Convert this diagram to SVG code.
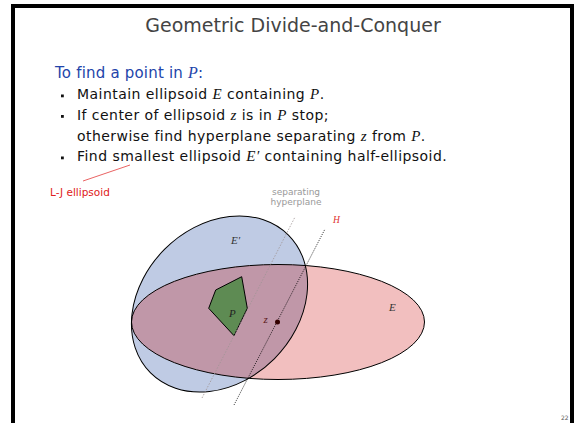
<svg xmlns="http://www.w3.org/2000/svg" width="579" height="423" viewBox="0 0 579 423">
<defs>
<style>
.sans{font-family:"DejaVu Sans","Liberation Sans",sans-serif}
.math{font-family:"Liberation Serif","DejaVu Serif",serif;font-style:italic}
.body{font-size:14px;fill:#111;letter-spacing:0.45px}
.body .math{font-size:15px}
.outline{fill:none;stroke:#000;stroke-width:1}
.lbl{font-size:11px;fill:#333}
</style>
<clipPath id="clipEp"><ellipse cx="219.5" cy="304" rx="97.5" ry="77.5" transform="rotate(-45 219.5 304)"/></clipPath>
</defs>
<rect x="0" y="0" width="579" height="423" fill="#fff"/>
<rect x="13" y="6" width="559" height="440" fill="none" stroke="#000" stroke-width="4"/>
<g id="title"><text class="sans" x="293" y="32" font-size="19" fill="#444" text-anchor="middle">Geometric Divide-and-Conquer</text></g>
<g id="text">
<text class="sans" x="55" y="78" font-size="15" fill="#2244aa" letter-spacing="0.2">To find a point in <tspan class="math" font-size="16">P</tspan>:</text>
<rect x="61" y="94.5" width="2.8" height="2.8" fill="#111"/>
<rect x="61" y="115" width="2.8" height="2.8" fill="#111"/>
<rect x="61" y="156.5" width="2.8" height="2.8" fill="#111"/>
<text class="sans body" x="77" y="99">Maintain ellipsoid <tspan class="math">E</tspan> containing <tspan class="math">P</tspan>.</text>
<text class="sans body" x="77" y="119.5">If center of ellipsoid <tspan class="math">z</tspan> is in <tspan class="math">P</tspan> stop;</text>
<text class="sans body" x="77" y="140.5">otherwise find hyperplane separating <tspan class="math">z</tspan> from <tspan class="math">P</tspan>.</text>
<text class="sans body" x="77" y="161">Find smallest ellipsoid <tspan class="math">E′</tspan> containing half-ellipsoid.</text>
</g>
<g id="lj-label">
<line x1="83" y1="181" x2="130" y2="165" stroke="#e02020" stroke-width="0.7"/>
<text class="sans" x="50" y="196" font-size="10.5" fill="#e02020">L-J ellipsoid</text>
</g>
<g id="ellipse-Eprime"><ellipse cx="219.5" cy="304" rx="97.5" ry="77.5" transform="rotate(-45 219.5 304)" fill="#bfcbe4"/></g>
<g id="ellipse-E"><ellipse cx="278" cy="322" rx="146.5" ry="57.5" fill="#f2bfbf"/>
<ellipse cx="278" cy="322" rx="146.5" ry="57.5" fill="#c097a8" clip-path="url(#clipEp)"/></g>
<g id="outlines">
<ellipse class="outline" cx="219.5" cy="304" rx="97.5" ry="77.5" transform="rotate(-45 219.5 304)"/>
<ellipse class="outline" cx="278" cy="322" rx="146.5" ry="57.5"/>
</g>
<g id="P"><polygon points="241.7,276.7 215.7,290 208.7,308.3 234,335.7 247.3,308.3" fill="#5e8b53" stroke="#000" stroke-width="1"/>
<text class="math" x="229" y="317" font-size="11" fill="#222">P</text></g>
<g id="connectors">
<line x1="202" y1="398" x2="295" y2="217" stroke="#a09494" stroke-width="0.8" stroke-dasharray="1.5 1.5"/>
<line x1="234" y1="405" x2="325" y2="229" stroke="#000" stroke-width="0.8" stroke-dasharray="1 1.2"/>
</g>
<g id="z"><circle cx="277.5" cy="322" r="2.5" fill="#300"/>
<text class="math" x="263.5" y="323" font-size="11" fill="#5a1a1a">z</text></g>
<g id="labels">
<text class="math lbl" x="231" y="244">E′</text>
<text class="math lbl" x="389" y="311">E</text>
<text class="math" x="333" y="223" font-size="9.5" fill="#e03030">H</text>
<text class="sans" x="296" y="195" font-size="9" fill="#999" text-anchor="middle">separating</text>
<text class="sans" x="296" y="205" font-size="9" fill="#999" text-anchor="middle">hyperplane</text>
</g>
<g id="page"><text class="sans" x="561" y="420" font-size="6" fill="#555">22</text></g>
</svg>
